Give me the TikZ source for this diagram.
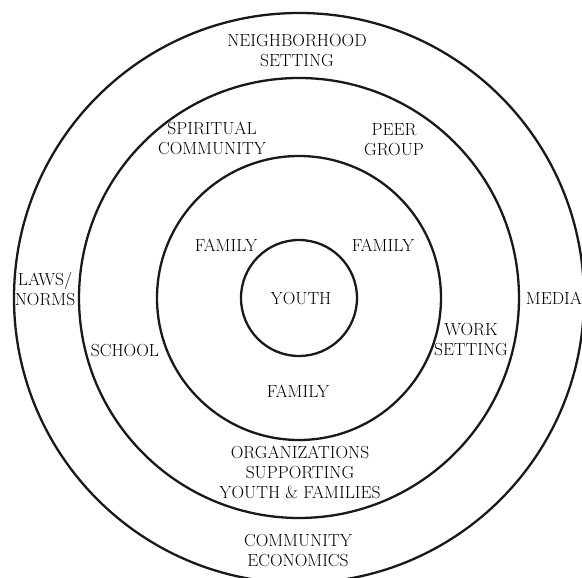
\documentclass[tikz,border=0pt]{standalone}
\begin{document}
\begin{tikzpicture}[x=1pt,y=1pt,
  ring/.style={circle,draw=black!90,line width=2.3pt,inner sep=0pt},
  lbl/.style={font=\fontsize{17.5}{20}\selectfont,align=center,inner sep=0pt,text=black}]
\useasboundingbox (0,0) rectangle (582,578);
\clip (0,0) rectangle (582,578);
\coordinate (c) at (299,280);
\node[ring,minimum size=570pt] (outer) at (c) {};
\node[ring,minimum size=440pt] (middle) at (c) {};
\node[ring,minimum size=284pt] (inner) at (c) {};
\node[ring,minimum size=116pt] (youthc) at (c) {};
\node[lbl] (youth) at (301,279) {YOUTH};
\node[lbl] (fam1) at (226,333) {FAMILY};
\node[lbl] (fam2) at (383,333) {FAMILY};
\node[lbl] (fam3) at (298,187) {FAMILY};
\node[lbl] (spirit) at (212,440) {SPIRITUAL\\COMMUNITY};
\node[lbl] (peer) at (394,438) {PEER\\GROUP};
\node[lbl] (school) at (125,227) {SCHOOL};
\node[lbl] (work) at (471,238) {WORK\\SETTING};
\node[lbl] (org) at (300,106) {ORGANIZATIONS\\SUPPORTING\\YOUTH \& FAMILIES};
\node[lbl] (neigh) at (297,527) {NEIGHBORHOOD\\SETTING};
\node[lbl] (laws) at (45,289) {LAWS/\\NORMS};
\node[lbl] (media) at (554,280) {MEDIA};
\node[lbl] (econ) at (298,27) {COMMUNITY\\ECONOMICS};
\end{tikzpicture}
\end{document}
